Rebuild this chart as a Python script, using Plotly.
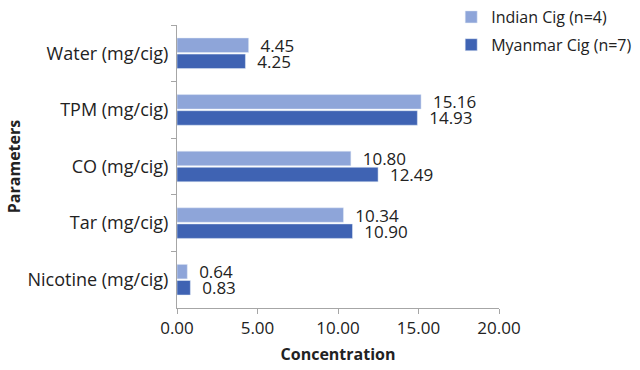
import plotly.graph_objects as go

categories = ["Water (mg/cig)", "TPM (mg/cig)", "CO (mg/cig)", "Tar (mg/cig)", "Nicotine (mg/cig)"]
indian = [4.45, 15.16, 10.80, 10.34, 0.64]
myanmar = [4.25, 14.93, 12.49, 10.90, 0.83]
x_ticks = [0, 5, 10, 15, 20]
x_tick_labels = ["0.00", "5.00", "10.00", "15.00", "20.00"]

FONT = "Open Sans"
TXT = "#222222"
fig = go.Figure()
fig.add_trace(go.Bar(
    y=categories, x=indian, orientation="h", name="Indian Cig (n=4)",
    marker=dict(color="#8EA5D9"), text=[f"  {v:.2f}" for v in indian],
    textposition="outside", cliponaxis=False, constraintext="none", legendgroup="a",
    textfont=dict(size=17, color=TXT, family=FONT)))
fig.add_trace(go.Bar(
    y=categories, x=myanmar, orientation="h", name="Myanmar Cig (n=7)",
    marker=dict(color="#3F63B3"), text=[f"  {v:.2f}" for v in myanmar],
    textposition="outside", cliponaxis=False, constraintext="none", legendgroup="b",
    textfont=dict(size=17, color=TXT, family=FONT)))

fig.update_layout(
    width=640, height=370,
    margin=dict(l=177, r=141, t=25, b=62, autoexpand=False),
    paper_bgcolor="white", plot_bgcolor="white",
    barmode="group", bargap=0.43, bargroupgap=0.1,
    font=dict(family=FONT, size=17, color=TXT),
    legend=dict(xref="container", yref="container", x=0.705, y=1.0,
                xanchor="left", yanchor="top",
                font=dict(size=16, family=FONT, color=TXT), tracegroupgap=4,
                bgcolor="rgba(0,0,0,0)", borderwidth=0),
    xaxis=dict(range=[0, 20], tickvals=x_ticks, ticktext=x_tick_labels,
               showgrid=False, zeroline=False, showline=True, linecolor="#A6A6A6",
               ticks="outside", ticklen=5, tickcolor="#A6A6A6",
               tickfont=dict(size=17),
               title=dict(text="<b>Concentration</b>", font=dict(size=16), standoff=10)),
    yaxis=dict(autorange="reversed", showgrid=False, showline=True, linecolor="#A6A6A6",
               ticks="outside", ticklen=5, tickcolor="#A6A6A6", tickson="boundaries",
               tickfont=dict(size=18), ticklabelstandoff=4,
               title=dict(text="<b>Parameters</b>", font=dict(size=16), standoff=2)),
)
fig.write_html("out.html")
